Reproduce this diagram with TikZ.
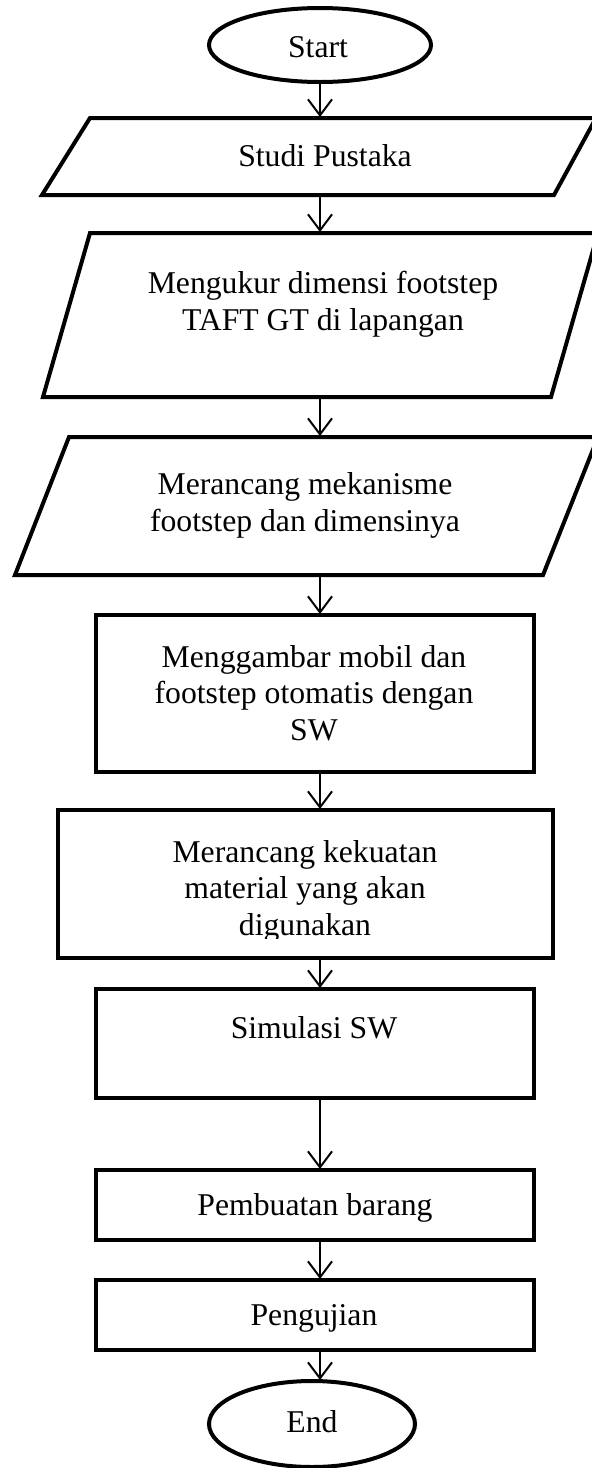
\documentclass[tikz,border=0pt]{standalone}
\usepackage{fontspec}
\setmainfont{Liberation Serif}
\usetikzlibrary{arrows.meta,shapes.geometric}
\begin{document}
\begin{tikzpicture}[x=1pt,y=-1pt,
  box/.style={draw, line width=4pt, outer sep=0pt},
  rectbox/.style={box, rectangle, inner sep=0pt},
  term/.style={box, ellipse, inner sep=0pt},
  lbl/.style={font=\fontsize{31.7}{36.5}\selectfont, align=center, anchor=base, inner sep=0pt},
  flow/.style={line width=2pt, shorten >=1pt, -{Straight Barb[length=16pt,width=24pt,line width=2pt]}}]
\useasboundingbox (0,0) rectangle (592,1468);
\coordinate (ax) at (320,0);

% terminals and boxes
\node[term, minimum width=222pt, minimum height=74pt] (start) at (320,45) {};
\draw[box] (90,118) -- (596,118) -- (554,195) -- (42,195) -- cycle;
\coordinate (p1t) at (320,118); \coordinate (p1b) at (320,195);
\draw[box] (90,233) -- (598,233) -- (551,397) -- (43,397) -- cycle;
\coordinate (p2t) at (320,233); \coordinate (p2b) at (320,397);
\draw[box] (69,437) -- (598,437) -- (543,575) -- (15,575) -- cycle;
\coordinate (p3t) at (320,437); \coordinate (p3b) at (320,575);
\node[rectbox, minimum width=438pt, minimum height=157pt] (r1) at (315,693.5) {};
\node[rectbox, minimum width=495pt, minimum height=148pt] (r2) at (305.5,884) {};
\node[rectbox, minimum width=438pt, minimum height=109pt] (r3) at (315,1043.5) {};
\node[rectbox, minimum width=438pt, minimum height=70pt] (r4) at (315,1205) {};
\node[rectbox, minimum width=438pt, minimum height=70pt] (r5) at (315,1315) {};
\node[term, minimum width=206pt, minimum height=86pt] (end) at (312,1424) {};

% texts (anchor base = baseline of the last line)
\node[lbl] (tstart) at (318,57) {Start};
\node[lbl] (t1) at (325,166) {Studi Pustaka};
\node[lbl] (t2) at (323,330) {Mengukur dimensi footstep\\TAFT GT di lapangan};
\node[lbl] (t3) at (305,531) {Merancang mekanisme\\footstep dan dimensinya};
\node[lbl] (t4) at (314,740) {Menggambar mobil dan\\footstep otomatis dengan\\SW};
\begin{scope}
\clip (0,800) rectangle (592,938);
\node[lbl] (t5) at (305,935) {Merancang kekuatan\\material yang akan\\digunakan};
\end{scope}
\node[lbl] (t6) at (314,1038) {Simulasi SW};
\node[lbl] (t7) at (315,1215) {Pembuatan barang};
\node[lbl] (t8) at (314,1325) {Pengujian};
\node[lbl] (tend) at (312,1432) {End};

% connectors
\draw[flow] (ax |- start.south) -- (p1t);
\draw[flow] (p1b) -- (p2t);
\draw[flow] (p2b) -- (p3t);
\draw[flow] (p3b) -- (ax |- r1.north);
\draw[flow] (ax |- r1.south) -- (ax |- r2.north);
\draw[flow] (ax |- r2.south) -- (ax |- r3.north);
\draw[flow] (ax |- r3.south) -- (ax |- r4.north);
\draw[flow] (ax |- r4.south) -- (ax |- r5.north);
\draw[flow] (ax |- r5.south) -- (ax |- end.north);
\end{tikzpicture}
\end{document}
